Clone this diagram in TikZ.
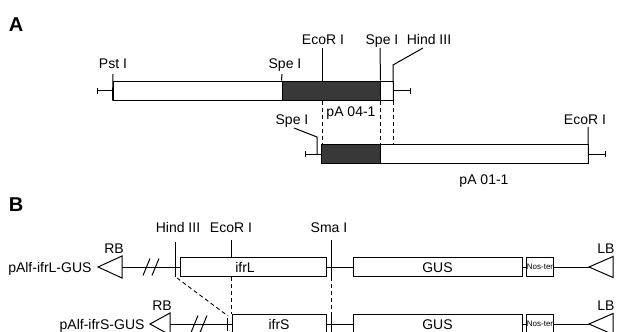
\documentclass[tikz,border=0pt]{standalone}
\usepackage{fontspec}
\setmainfont{Liberation Sans}
\usetikzlibrary{positioning,calc,arrows.meta}

\begin{document}
\begin{tikzpicture}
		[x=1pt, y=-1pt, line width=1pt,
		 lbl/.style={font=\fontsize{14}{16}\selectfont, inner sep=0pt, anchor=base},
		 panel/.style={font=\fontsize{20}{22}\selectfont\bfseries, inner sep=0pt},
		 bar/.style={draw, fill=white, minimum height=19pt, inner sep=0pt},
		 darkbar/.style={draw, fill=black!78, minimum height=19pt, inner sep=0pt},
		 cut/.style={dash pattern=on 4pt off 3pt, line width=0.9pt},
		 endtick/.style={-{Bar[width=6pt,line width=1pt]}},
		 noster/.style={draw, fill=white, minimum width=26pt, minimum height=19pt, inner sep=0pt, font=\fontsize{8}{9}\selectfont}]
		\useasboundingbox (0,0) rectangle (622,332);
		\clip (0,0) rectangle (622,332);

		% A: pA 04-1
		\node[panel] (A) at (16,25) {A};
		\node[bar, minimum width=169pt] (pst) at (197.5,90.5) {};
		\node[darkbar, minimum width=98pt] (frag) at (331,90.5) {};
		\node[bar, minimum width=13pt] (hind) at (386.5,90.5) {};
		\coordinate (pstTop) at (113,74);
		\coordinate (speTop) at (282,74);
		\coordinate (ecoTop) at (322,48);
		\coordinate (spe2Top) at (380,48);
		\coordinate (hindKnee) at (393,65);
		\coordinate (hindEnd) at (423,48);
		\draw (pst.south west) -- (pstTop);
		\draw (frag.north west) -- (speTop);
		\draw (frag.north west -| ecoTop) -- (ecoTop);
		\draw (frag.north east) -- (spe2Top);
		\draw (hind.south east) -- (hindKnee) -- (hindEnd);
		\draw[endtick] (pst.west) -- ++(-16,0);
		\draw[endtick] (hind.east) -- ++(17,0);
		\node[lbl] at (113,68) {Pst I};
		\node[lbl] at (285,68) {Spe I};
		\node[lbl] at (323,45) {EcoR I};
		\node[lbl] at (382,45) {Spe I};
		\node[lbl] at (429,45) {Hind III};
		\node[lbl] at (351,116) {pA 04-1};

		% A: pA 01-1
		\node[darkbar, minimum width=59pt] (frag2) at (350.5,154) {};
		\node[bar, minimum width=208pt] (vec) at (484,154) {};
		\coordinate (speBend) at (317,137);
		\coordinate (speEnd) at (294,128);
		\coordinate (eco2Top) at (588,127);
		\draw (317,154) -- (speBend) -- (speEnd);
		\draw (vec.south east) -- (eco2Top);
		\draw[endtick] (frag2.west) -- ++(-16,0);
		\draw[endtick] (vec.east) -- ++(17,0);
		\node[lbl] at (292,124) {Spe I};
		\node[lbl] at (585,124) {EcoR I};
		\node[lbl] at (484,184) {pA 01-1};

		\draw[cut] (frag.south -| ecoTop) -- (frag2.north -| ecoTop);
		\draw[cut] (frag.south east) -- (frag2.north east);
		\draw[cut] (hind.south east) -- (frag2.north -| hind.east);

		% B
		\node[panel] (B) at (16,205) {B};
		\foreach \r/\y/\tip/\base/\left/\gene/\gx/\name/\nx in
			{L/267/98/122/180/ifrL/245/pAlf-ifrL-GUS/92,
			 S/324/150/170/232/ifrS/279/pAlf-ifrS-GUS/145}
		{
			\coordinate (rb\r) at (\base,\y);
			\draw (rb\r) ++(0,-11) -- (\tip,\y) -- ($(rb\r)+(0,11)$) -- cycle;
			\node[lbl, anchor=base east] (name\r) at (\nx,\y+5) {\name};
			\node[lbl] at ($(rb\r)+(-8,-14)$) {RB};
			\node[bar, minimum width={326-\left}] (ifr\r) at ({(326+\left)/2},\y) {};
			\node[lbl] at (\gx,\y+5) {\gene};
			\draw (rb\r) -- (ifr\r.west);
			\draw ($(rb\r)+(21,8.5)$) -- ++(7,-17);
			\draw ($(rb\r)+(30,8.5)$) -- ++(7,-17);
			\node[bar, minimum width=169pt] (gus\r) at (437.5,\y) {};
			\node[lbl] at (437.5,\y+5) {GUS};
			\node[noster] (nos\r) at (540,\y) {Nos-ter};
			\coordinate (lb\r) at (589,\y);
			\draw (lb\r) -- ++(24,-10.5) -- ++(0,21) -- cycle;
			\node[lbl] at (606,\y-14) {LB};
			\draw (ifr\r.east) -- (gus\r.west);
			\draw (gus\r.east) -- (nos\r.west);
			\draw (nos\r.east) -- (lb\r);
		}

		% B: sites
		\coordinate (hindB) at (175,242);
		\coordinate (ecoB) at (231,240);
		\coordinate (smaB) at (331,240);
		\draw (hindB) -- (175,277);
		\draw (ecoB) -- (ifrL.north -| ecoB);
		\draw (smaB) -- (ifrL.south -| smaB);
		\draw (227,318) -- (227,331);
		\draw (ifrS.north -| smaB) -- (ifrS.south -| smaB);
		\node[lbl] at (178,232) {Hind III};
		\node[lbl] at (231,232) {EcoR I};
		\node[lbl] at (329,232) {Sma I};

		\draw[cut] (ifrL.south -| ecoB) -- (ifrS.north -| ecoB);
		\draw[cut] (ifrL.south -| smaB) -- (ifrS.north -| smaB);
		\draw[cut] (177,278) -- (228,316);
	\end{tikzpicture}
\end{document}
